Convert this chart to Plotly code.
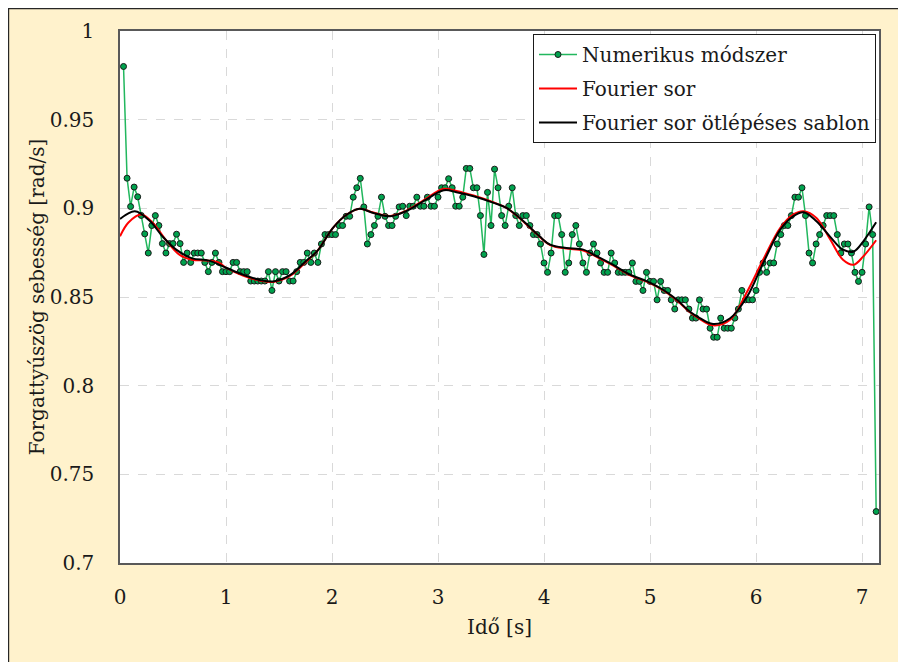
import numpy as np
import plotly.graph_objects as go

# ---------------- data ----------------
SAMPLE_RATE = 30.0  # samples per second of the numerical method

numerikus = [
    0.980, 0.917, 0.901, 0.912, 0.9065, 0.896, 0.8856, 0.8748, 0.8903, 0.8959,
    0.8903, 0.8801, 0.8748, 0.8801, 0.8801, 0.8854, 0.8801, 0.8695, 0.8748, 0.8695,
    0.8748, 0.8748, 0.8748, 0.8695, 0.8643, 0.8695, 0.8748, 0.8695, 0.8643, 0.8643,
    0.8643, 0.8695, 0.8695, 0.8643, 0.8643, 0.8643, 0.8590, 0.8590, 0.8590, 0.8590,
    0.8590, 0.8643, 0.8537, 0.8643, 0.8590, 0.8643, 0.8643, 0.8590, 0.8590, 0.8643,
    0.8695, 0.8695, 0.8748,
    0.8695, 0.8748, 0.8695, 0.8799, 0.8852, 0.8852, 0.8852, 0.8852, 0.8903, 0.8903,
    0.8955, 0.8955, 0.9063, 0.9116, 0.9169, 0.9008, 0.8799, 0.8852, 0.8903, 0.8955,
    0.9063, 0.8955, 0.8903, 0.8903, 0.8955, 0.9008,
    0.9012, 0.8959, 0.9012, 0.9012, 0.9063, 0.9012, 0.9012, 0.9063, 0.9012, 0.9012,
    0.9063, 0.9116, 0.9116, 0.9167, 0.9116, 0.9012, 0.9012, 0.9063, 0.9225, 0.9225,
    0.9116, 0.9116, 0.8959, 0.8740, 0.9090, 0.8903, 0.9221,
    0.9116, 0.8959, 0.8903, 0.9012, 0.9116, 0.8959, 0.8903, 0.8959, 0.8959, 0.8903,
    0.8852, 0.8852, 0.8799, 0.8692, 0.8639, 0.8748, 0.8959, 0.8959, 0.8852, 0.8639,
    0.8692, 0.8852, 0.8903, 0.8799, 0.8692, 0.8639, 0.8748, 0.8799, 0.8748, 0.8692,
    0.8639, 0.8639, 0.8748, 0.8692, 0.8639, 0.8639, 0.8639, 0.8639, 0.8692, 0.8588,
    0.8588, 0.8537, 0.8639, 0.8588, 0.8588, 0.8484, 0.8588, 0.8537, 0.8537, 0.8484,
    0.8432, 0.8484, 0.8484, 0.8484, 0.8432, 0.8381,
    0.8381, 0.8484, 0.8432, 0.8432, 0.8324, 0.8273, 0.8273, 0.8381, 0.8324, 0.8324,
    0.8324, 0.8381, 0.8432, 0.8537, 0.8484, 0.8484, 0.8484, 0.8537, 0.8639, 0.8692,
    0.8639, 0.8692, 0.8692, 0.8799, 0.8852, 0.8903, 0.8903, 0.8959, 0.9063, 0.9063,
    0.9116, 0.8959, 0.8748, 0.8692, 0.8799, 0.8852, 0.8903, 0.8959, 0.8959, 0.8959,
    0.8852, 0.8748, 0.8799, 0.8799, 0.8748, 0.8639, 0.8588, 0.8639, 0.8799, 0.9008,
    0.8852, 0.729,
]
ido_num = np.arange(1, len(numerikus) + 1) / SAMPLE_RATE

fourier_t = [
    0.00, 0.08, 0.20, 0.31, 0.43, 0.56, 0.68, 0.81, 0.93, 1.00, 1.165, 1.325,
    1.446, 1.607, 1.757, 1.858, 2.009, 2.14, 2.26, 2.39, 2.55, 2.70, 2.863,
    3.054, 3.174, 3.335, 3.526, 3.646, 3.807, 3.958, 4.058, 4.209, 4.37, 4.50,
    4.65, 4.812, 4.973, 5.123, 5.254, 5.374, 5.445, 5.595, 5.756, 5.917, 6.068,
    6.229, 6.349, 6.45, 6.57, 6.70, 6.82, 6.922, 7.012, 7.133,
]
fourier_sor = [
    0.8842, 0.8920, 0.8965, 0.8918, 0.8824, 0.8739, 0.8710, 0.8706, 0.8695, 0.8665, 0.8620, 0.8592,
    0.8585, 0.8620, 0.8700, 0.8757, 0.8890, 0.8965, 0.8998, 0.8976, 0.8957, 0.8987, 0.9045,
    0.9110, 0.9098, 0.9072, 0.9033, 0.9002, 0.8925, 0.8840, 0.8793, 0.8773, 0.8762, 0.8725,
    0.8678, 0.8622, 0.8585, 0.8538, 0.8480, 0.8415, 0.8385, 0.8340, 0.8372, 0.8531, 0.8711,
    0.8890, 0.8965, 0.8984, 0.8946, 0.8824, 0.8710, 0.8682, 0.8729, 0.8820,
]

sablon_t = [
    0.00, 0.14, 0.28, 0.40, 0.53, 0.68, 0.84, 1.00, 1.165, 1.325,
    1.446, 1.607, 1.757, 1.858, 2.009, 2.14, 2.26, 2.39, 2.55, 2.70, 2.863,
    3.054, 3.174, 3.335, 3.526, 3.646, 3.807, 3.958, 4.058, 4.209, 4.37, 4.50,
    4.65, 4.812, 4.973, 5.123, 5.254, 5.374, 5.445, 5.595, 5.756, 5.917, 6.068,
    6.229, 6.349, 6.45, 6.57, 6.70, 6.82, 6.922, 7.012, 7.133,
]
sablon = [
    0.8940, 0.8984, 0.8930, 0.8842, 0.8767, 0.8718, 0.8705, 0.8665, 0.8625, 0.8595,
    0.8588, 0.8625, 0.8705, 0.8757, 0.8890, 0.8965, 0.8997, 0.8974, 0.8955, 0.8984, 0.9040,
    0.9102, 0.9091, 0.9068, 0.9031, 0.9002, 0.8927, 0.8842, 0.8795, 0.8776, 0.8767, 0.8729,
    0.8682, 0.8626, 0.8588, 0.8541, 0.8484, 0.8418, 0.8390, 0.8348, 0.8380, 0.8503, 0.8692,
    0.8880, 0.8955, 0.8978, 0.8927, 0.8839, 0.8767, 0.8757, 0.8814, 0.8921,
]

x_ticks = [0, 1, 2, 3, 4, 5, 6, 7]
y_ticks = [0.7, 0.75, 0.8, 0.85, 0.9, 0.95, 1.0]
y_tick_text = ["0.7", "0.75", "0.8", "0.85", "0.9", "0.95", "1"]

# ---------------- figure ----------------
FONT = "DejaVu Serif"
TXT = "#1a1a1a"

fig = go.Figure()
fig.add_trace(go.Scatter(
    x=ido_num, y=numerikus, mode="lines+markers", name="Numerikus módszer",
    legendgroup="a",
    line=dict(color="#22B75E", width=1.5),
    marker=dict(size=6, color="#00A24E", line=dict(color="#1a1a1a", width=1)),
))
fig.add_trace(go.Scatter(
    x=fourier_t, y=fourier_sor, mode="lines", name="Fourier sor",
    legendgroup="b",
    line=dict(color="#FF0000", width=2, shape="spline", smoothing=1.0),
))
fig.add_trace(go.Scatter(
    x=sablon_t, y=sablon, mode="lines", name="Fourier sor ötlépéses sablon",
    legendgroup="c",
    line=dict(color="#000000", width=2, shape="spline", smoothing=1.0),
))

# figure is placed at (8, 8) in the page by the browser's body margin
L, R, T, B = 112, 35, 23, 107
W, H = 906, 662
pw, ph = W - L - R, H - T - B


def px(X):
    return (X - L) / pw


def py(Y):
    return (H - B - Y) / ph


axis_common = dict(
    showgrid=True, gridcolor="#D9D9D9", griddash="dash", gridwidth=1,
    showline=True, linecolor="#595959", linewidth=1.5, mirror=True,
    zeroline=False, ticks="",
    tickfont=dict(family=FONT, size=20, color=TXT),
)

fig.update_layout(
    width=W, height=H, autosize=False,
    margin=dict(l=L, r=R, t=T, b=B),
    paper_bgcolor="#FFF2CC", plot_bgcolor="white",
    font=dict(family=FONT, size=20, color=TXT),
    xaxis=dict(range=[0, 7.16], tickvals=x_ticks, ticklabelstandoff=15,
               title=dict(text="Idő [s]", font=dict(family=FONT, size=20, color=TXT), standoff=12),
               **axis_common),
    yaxis=dict(range=[0.7, 1.0], tickvals=y_ticks, ticktext=y_tick_text, ticklabelstandoff=20,
               title=dict(text="Forgattyúszög sebesség [rad/s]", font=dict(family=FONT, size=20, color=TXT), standoff=0),
               **axis_common),
    legend=dict(
        x=px(868), y=py(26), xanchor="right", yanchor="top",
        bgcolor="white", bordercolor="#1a1a1a", borderwidth=1,
        font=dict(family=FONT, size=20, color=TXT),
        tracegroupgap=5, itemwidth=38, entrywidth=358,
    ),
    showlegend=True,
    shapes=[
        dict(type="line", xref="paper", yref="paper", layer="above",
             x0=px(0.6), x1=px(0.6), y0=py(H + 2), y1=py(0),
             line=dict(color="#262626", width=1.2)),
        dict(type="line", xref="paper", yref="paper", layer="above",
             x0=px(0), x1=px(W + 2), y0=py(0.6), y1=py(0.6),
             line=dict(color="#262626", width=1.2)),
    ],
)

fig.write_html("out.html")
